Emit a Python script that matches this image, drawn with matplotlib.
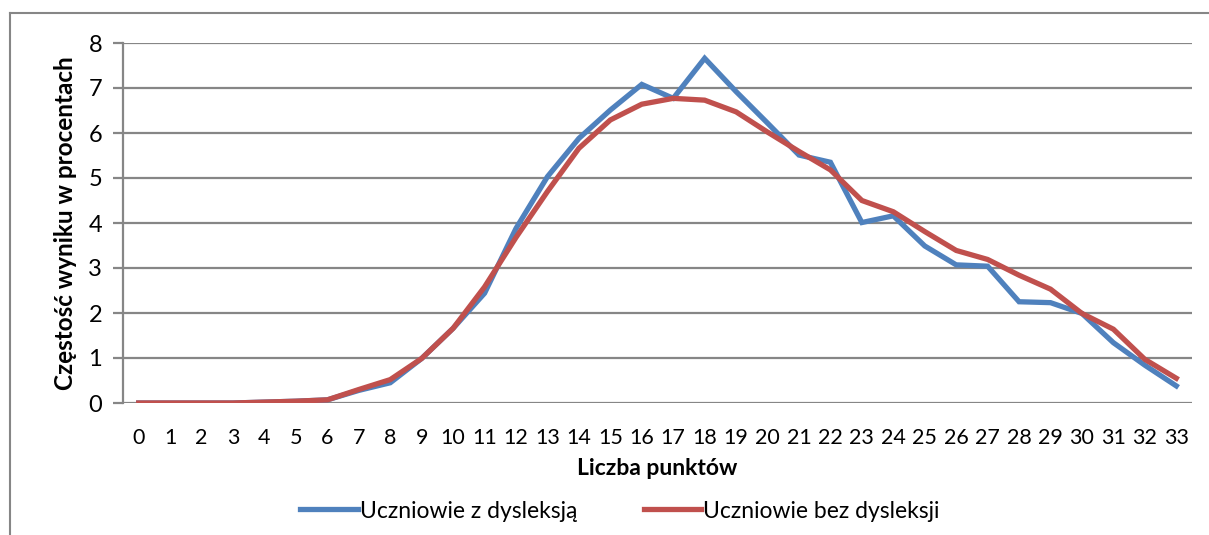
import numpy as np
import matplotlib.pyplot as plt
from matplotlib.lines import Line2D

punkty = list(range(34))
z_dysleksja = [0, 0, 0, 0, 0.02, 0.04, 0.07, 0.28, 0.45, 0.99, 1.66, 2.44, 3.88, 5.03,
               5.88, 6.51, 7.08, 6.77, 7.66, 6.92, 6.22, 5.51, 5.35, 4.01, 4.16, 3.49,
               3.07, 3.04, 2.25, 2.23, 1.99, 1.34, 0.84, 0.38]
bez_dysleksji = [0, 0, 0, 0, 0.02, 0.04, 0.07, 0.30, 0.52, 0.99, 1.66, 2.58, 3.68, 4.70,
                 5.66, 6.29, 6.64, 6.77, 6.73, 6.47, 6.02, 5.59, 5.18, 4.50, 4.25, 3.81,
                 3.39, 3.19, 2.84, 2.53, 1.99, 1.64, 0.97, 0.55]
nazwy = ["Uczniowie z dysleksją", "Uczniowie bez dysleksji"]
kolory = ["#4F81BD", "#C0504D"]

W, H = 1209, 535
fig = plt.figure(figsize=(W / 100, H / 100), dpi=100)
plt.rcParams['font.family'] = ['Lato', 'DejaVu Sans']

# obramowanie wykresu
fig.add_artist(Line2D([10 / W, 10 / W], [0, 1 - 13 / H], color="#868686", lw=1.5))
fig.add_artist(Line2D([10 / W, 1], [1 - 13 / H, 1 - 13 / H], color="#868686", lw=1.5))

ax = fig.add_axes([123 / W, 1 - 403 / H, (1192 - 123) / W, (403 - 43) / H])
ax.plot(punkty, z_dysleksja, color=kolory[0], lw=3.8, label=nazwy[0], solid_joinstyle="miter", zorder=3)
ax.plot(punkty, bez_dysleksji, color=kolory[1], lw=3.8, label=nazwy[1], solid_joinstyle="miter", zorder=4)

ax.set_xlim(-0.5, 33.5)
ax.set_ylim(0, 8)
ax.set_xticks(punkty)
ax.set_yticks(range(9))
ax.grid(axis="y", color="#868686", lw=1.6)
ax.set_axisbelow(True)
for s in ["top", "right", "bottom"]:
    ax.spines[s].set_visible(False)
ax.spines["left"].set_color("#868686")
ax.spines["left"].set_linewidth(1.6)
ax.tick_params(axis="y", length=7, width=1.6, color="#868686", labelsize=17, pad=8)
ax.tick_params(axis="x", length=0, labelsize=15.5, pad=18)

ax.set_ylabel("Częstość wyniku w procentach", fontsize=17.5, fontweight="bold", labelpad=8)
ax.set_xlabel("Liczba punktów", fontsize=16.5, fontweight="bold", labelpad=7)

fig.legend(handles=ax.get_lines(), labels=nazwy, loc="center", bbox_to_anchor=(620 / W, 1 - 511 / H),
           ncol=2, frameon=False, fontsize=16.5, handlelength=2.5, handletextpad=0.1, columnspacing=2.9)

fig.savefig("out.png", dpi=100)
